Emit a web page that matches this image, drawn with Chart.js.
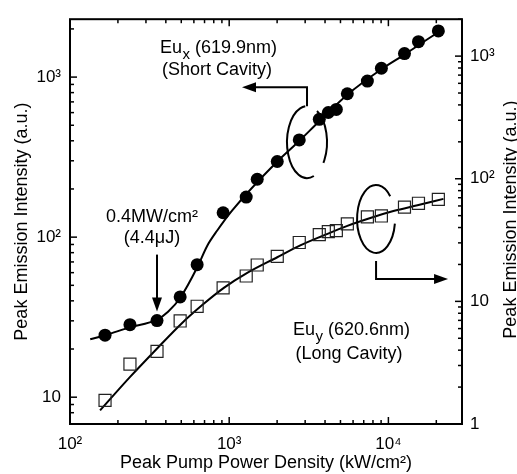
<!DOCTYPE html>
<html>
<head>
<meta charset="utf-8">
<script src="https://cdn.jsdelivr.net/npm/chart.js@4.4.1/dist/chart.umd.min.js"></script>
<style>
  html, body { margin: 0; padding: 0; background: #fff; }
  #wrap { width: 517px; height: 474px; }
</style>
</head>
<body>
<div id="wrap"><canvas id="emissionChart" width="517" height="474"></canvas></div>
<script>
// Peak pump power density (kW/cm2), shared by both cavities
const powerDensity = [166, 238, 352, 492, 629, 916, 1279, 1500, 2004, 2755, 3681, 4195, 4710, 5522, 7379, 9036, 12620, 15450, 20600];
// Eu_x (619.9nm), short cavity - left axis
const shortCavity = [24.4, 28.4, 30.1, 42.3, 67.3, 142, 178, 230, 297, 405, 545, 601, 628, 787, 944, 1136, 1403, 1664, 1942];
// Eu_y (620.6nm), long cavity - right axis
const longCavity = [1.56, 3.08, 3.91, 6.92, 9.12, 12.9, 16.1, 19.8, 23.3, 30.2, 35.0, 37.0, 37.7, 42.9, 48.8, 49.7, 58.6, 63.1, 67.9];

// fitted curves
const shortFitX = [134, 166, 238, 352, 413, 492, 629, 727, 841, 1045, 2004, 2755, 3681, 5522, 9036, 12620, 20600];
const shortFitY = [23.0, 24.4, 27.3, 30.5, 34.2, 41.7, 64.6, 88.1, 110, 147, 297, 399, 530, 776, 1119, 1383, 1914];
const longFitX = [154.5, 238.5, 352.5, 499, 686, 930, 1298, 2004, 2796, 3901, 5523, 7705, 10750, 15220, 22180];
const longFitY = [1.29, 2.42, 4.13, 6.55, 9.46, 12.94, 17.06, 22.9, 28.6, 34.4, 41.3, 47.9, 54.5, 60.8, 68.5];

// tick labels (decades only)
const xTickLabels = { 100: '10²', 1000: '10³', 10000: '10⁴' };
const leftTickLabels = { 10: '10', 100: '10²', 1000: '10³' };
const rightTickLabels = { 1: '1', 10: '10', 100: '10²', 1000: '10³' };

const FONT = '"Liberation Sans", Arial, Helvetica, sans-serif';

function toPoints(xs, ys) {
    return xs.map((x, i) => ({ x: x, y: ys[i] }));
}

function mantissa(v) {
    return v / Math.pow(10, Math.floor(Math.log10(v) + 1e-9));
}

function decadeLabel(map) {
    return function (value) {
        const m = mantissa(value);
        if (Math.abs(m - 1) > 1e-6) return '';
        return map[Math.round(value)] || '';
    };
}

// draw inward tick marks from the scale's own ticks
function drawTicks(ctx, scale, side, ca) {
    scale.ticks.forEach(t => {
        const v = t.value;
        if (v < scale.min || v > scale.max) return;
        const m = mantissa(v);
        if (Math.abs(m - Math.round(m)) > 1e-6) return;
        const major = Math.abs(m - 1) < 1e-6;
        const len = major ? 7 : 4;
        const p = scale.getPixelForValue(v);
        ctx.beginPath();
        if (side === 'bottom') { ctx.moveTo(p, ca.bottom); ctx.lineTo(p, ca.bottom - len); }
        if (side === 'top') { ctx.moveTo(p, ca.top); ctx.lineTo(p, ca.top + len); }
        if (side === 'left') { ctx.moveTo(ca.left, p); ctx.lineTo(ca.left + len, p); }
        if (side === 'right') { ctx.moveTo(ca.right, p); ctx.lineTo(ca.right - len, p); }
        ctx.stroke();
    });
}

function arrowHead(ctx, x, y, dir) {
    const L = 14, W = 5;
    ctx.beginPath();
    if (dir === 'left') { ctx.moveTo(x, y); ctx.lineTo(x + L, y - W); ctx.lineTo(x + L, y + W); }
    if (dir === 'right') { ctx.moveTo(x, y); ctx.lineTo(x - L, y - W); ctx.lineTo(x - L, y + W); }
    if (dir === 'down') { ctx.moveTo(x, y); ctx.lineTo(x - W, y - L); ctx.lineTo(x + W, y - L); }
    ctx.closePath();
    ctx.fill();
}

function subText(ctx, x, y, main, sub, rest) {
    ctx.textAlign = 'left';
    ctx.font = '18px ' + FONT;
    ctx.fillText(main, x, y);
    let cx = x + ctx.measureText(main).width + 0.5;
    ctx.font = '15px ' + FONT;
    ctx.fillText(sub, cx, y + 6);
    cx += ctx.measureText(sub).width;
    ctx.font = '18px ' + FONT;
    ctx.fillText(rest, cx, y);
}

const decorPlugin = {
    id: 'decor',
    afterDraw(chart) {
        const { ctx, chartArea: ca, scales } = chart;
        const xs = scales.x, yl = scales.y, yr = scales.y2;
        ctx.save();
        ctx.strokeStyle = '#000';
        ctx.fillStyle = '#000';

        // frame and ticks
        ctx.lineWidth = 2;
        ctx.strokeRect(ca.left, ca.top, ca.width, ca.height);
        ctx.lineWidth = 1.5;
        drawTicks(ctx, xs, 'bottom', ca);
        drawTicks(ctx, xs, 'top', ca);
        drawTicks(ctx, yl, 'left', ca);
        drawTicks(ctx, yr, 'right', ca);

        // right axis title (reads upward like the left one)
        ctx.save();
        ctx.translate(511, (ca.top + ca.bottom) / 2 - 2);
        ctx.rotate(-Math.PI / 2);
        ctx.font = '18px ' + FONT;
        ctx.textAlign = 'center';
        ctx.textBaseline = 'middle';
        ctx.fillText('Peak Emission Intensity (a.u.)', 0, 0);
        ctx.restore();

        ctx.lineWidth = 2;
        ctx.textBaseline = 'alphabetic';

        // short cavity: ellipse round the curve and arrow to left axis
        const e1x = xs.getPixelForValue(3082), e1y = yl.getPixelForValue(392);
        const r1x = 20, r1y = 36;
        ctx.beginPath();
        ctx.ellipse(e1x, e1y, r1x, r1y, 0, 70 * Math.PI / 180, 265 * Math.PI / 180);
        ctx.stroke();
        ctx.beginPath();
        ctx.ellipse(e1x, e1y, r1x, r1y, 0, -60 * Math.PI / 180, 35 * Math.PI / 180);
        ctx.stroke();
        ctx.beginPath();
        ctx.moveTo(e1x, e1y - r1y);
        ctx.lineTo(e1x, e1y - r1y - 19);
        ctx.lineTo(e1x - 55, e1y - r1y - 19);
        ctx.stroke();
        arrowHead(ctx, e1x - 65, e1y - r1y - 19, 'left');

        // long cavity: ellipse and arrow to right axis
        const e2x = xs.getPixelForValue(8367), e2y = yr.getPixelForValue(47);
        const r2x = 19, r2y = 34;
        ctx.beginPath();
        ctx.ellipse(e2x, e2y, r2x, r2y, 0, 8 * Math.PI / 180, 318 * Math.PI / 180);
        ctx.stroke();
        ctx.beginPath();
        ctx.moveTo(e2x, e2y + r2y + 8);
        ctx.lineTo(e2x, e2y + r2y + 26);
        ctx.lineTo(e2x + 60, e2y + r2y + 26);
        ctx.stroke();
        arrowHead(ctx, e2x + 72, e2y + r2y + 26, 'right');

        // threshold arrow onto the third point
        const tx = xs.getPixelForValue(powerDensity[2]);
        const tip = yl.getPixelForValue(shortCavity[2]) - 9;
        ctx.beginPath();
        ctx.moveTo(tx, tip - 57);
        ctx.lineTo(tx, tip - 10);
        ctx.stroke();
        arrowHead(ctx, tx, tip, 'down');

        // labels
        subText(ctx, ca.left + 90, ca.top + 34, 'Eu', 'x', ' (619.9nm)');
        subText(ctx, ca.left + 223, ca.top + 316, 'Eu', 'y', ' (620.6nm)');
        ctx.font = '18px ' + FONT;
        ctx.textAlign = 'center';
        ctx.fillText('(Short Cavity)', ca.left + 147, ca.top + 56);
        ctx.fillText('(Long Cavity)', ca.left + 279, ca.top + 340);
        ctx.fillText('0.4MW/cm²', ca.left + 82, ca.top + 203);
        ctx.fillText('(4.4μJ)', ca.left + 82, ca.top + 224);

        ctx.restore();
    }
};

const tickFont = { family: FONT, size: 17 };
const titleFont = { family: FONT, size: 18 };

new Chart(document.getElementById('emissionChart'), {
    type: 'scatter',
    data: {
        datasets: [
            {
                label: 'Eu_x (619.9nm)',
                data: toPoints(powerDensity, shortCavity),
                yAxisID: 'y',
                showLine: false,
                pointStyle: 'circle',
                pointRadius: 6.5,
                pointBackgroundColor: '#000',
                pointBorderColor: '#000',
                pointBorderWidth: 0
            },
            {
                label: 'Eu_y (620.6nm)',
                data: toPoints(powerDensity, longCavity),
                yAxisID: 'y2',
                showLine: false,
                pointStyle: 'rect',
                pointRadius: 8.5,
                pointBackgroundColor: 'rgba(255,255,255,0)',
                pointBorderColor: '#222',
                pointBorderWidth: 1.2
            },
            {
                label: 'fit x',
                data: toPoints(shortFitX, shortFitY),
                yAxisID: 'y',
                showLine: true,
                borderColor: '#000',
                borderWidth: 2,
                pointRadius: 0,
                cubicInterpolationMode: 'monotone'
            },
            {
                label: 'fit y',
                data: toPoints(longFitX, longFitY),
                yAxisID: 'y2',
                showLine: true,
                borderColor: '#000',
                borderWidth: 2,
                pointRadius: 0,
                cubicInterpolationMode: 'monotone'
            }
        ]
    },
    options: {
        responsive: false,
        animation: false,
        layout: { padding: { top: 12, left: 0, right: 0, bottom: 0 } },
        plugins: {
            legend: { display: false },
            tooltip: { enabled: false }
        },
        scales: {
            x: {
                type: 'logarithmic',
                position: 'bottom',
                min: 100,
                max: 29000,
                grid: { display: false, drawTicks: false },
                border: { display: false },
                ticks: {
                    autoSkip: false,
                    maxRotation: 0,
                    padding: 10,
                    color: '#000',
                    font: tickFont,
                    callback: decadeLabel(xTickLabels)
                },
                title: {
                    display: true,
                    text: 'Peak Pump Power Density (kW/cm²)',
                    color: '#000',
                    font: titleFont,
                    padding: { top: 0, bottom: 0 }
                },
                afterFit: s => { s.height = 50; }
            },
            y: {
                type: 'logarithmic',
                position: 'left',
                min: 6.8,
                max: 2300,
                grid: { display: false, drawTicks: false },
                border: { display: false },
                ticks: {
                    autoSkip: false,
                    padding: 9,
                    color: '#000',
                    font: tickFont,
                    callback: decadeLabel(leftTickLabels)
                },
                title: {
                    display: true,
                    text: 'Peak Emission Intensity (a.u.)',
                    color: '#000',
                    font: titleFont,
                    padding: { top: 11, bottom: 0 }
                },
                afterFit: s => { s.width = 70; }
            },
            y2: {
                type: 'logarithmic',
                position: 'right',
                min: 1,
                max: 2000,
                grid: { display: false, drawTicks: false },
                border: { display: false },
                ticks: {
                    autoSkip: false,
                    padding: 8,
                    color: '#000',
                    font: tickFont,
                    callback: decadeLabel(rightTickLabels)
                },
                afterFit: s => { s.width = 55; }
            }
        }
    },
    plugins: [decorPlugin]
});
</script>
</body>
</html>
